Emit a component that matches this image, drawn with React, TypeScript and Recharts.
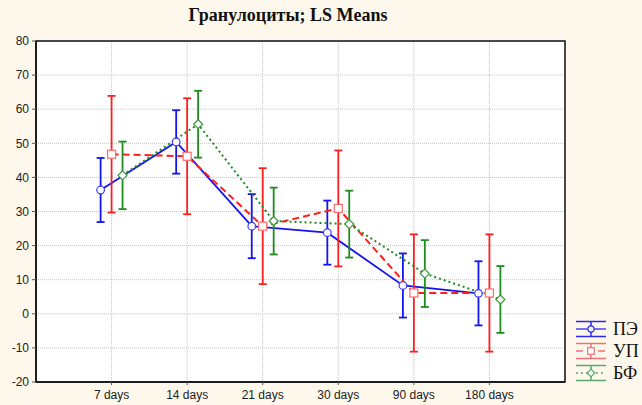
import React from "react";
import {
  ComposedChart,
  Line,
  XAxis,
  YAxis,
  CartesianGrid,
  ErrorBar,
  ReferenceArea,
} from "recharts";

// time points
const categories = ["7 days", "14 days", "21 days", "30 days", "90 days", "180 days"];

// LS means and half-widths of the intervals
const peMeans = [36.3, 50.4, 25.7, 23.8, 8.3, 6.0];
const peErr = [9.4, 9.3, 9.4, 9.4, 9.4, 9.4];
const upMeans = [46.8, 46.2, 25.7, 30.9, 6.1, 6.1];
const upErr = [17.1, 17.0, 17.0, 17.0, 17.2, 17.2];
const bfMeans = [40.6, 55.6, 27.2, 26.3, 11.8, 4.2];
const bfErr = [9.9, 9.8, 9.8, 9.8, 9.8, 9.8];

const yTicks = [-20, -10, 0, 10, 20, 30, 40, 50, 60, 70, 80];
const seriesNames = ["ПЭ", "УП", "БФ"];

const BG = "#fdf8eb";
const SANS = "'Liberation Sans', Arial, sans-serif";
const SERIF = "'Liberation Serif', 'Times New Roman', serif";

type Shape = "circle" | "square" | "diamond";

const series = [
  { name: seriesNames[0], means: peMeans, err: peErr, color: "#1414f0", marker: "#3a3aff", legend: "#2a2af0", shape: "circle" as Shape, dash: undefined, offset: -0.145 },
  { name: seriesNames[1], means: upMeans, err: upErr, color: "#ff1e1e", marker: "#ff6a6a", legend: "#f0707a", shape: "square" as Shape, dash: "7 4", offset: 0 },
  { name: seriesNames[2], means: bfMeans, err: bfErr, color: "#1e8c1e", marker: "#3a9a3a", legend: "#5aa86a", shape: "diamond" as Shape, dash: "2 3", offset: 0.145 },
];

const buildData = (means: number[], err: number[], offset: number) =>
  categories.map((c, i) => ({ x: i + 1 + offset, y: means[i], e: err[i], name: c }));

function Marker({ cx, cy, shape, color, size = 4 }: { cx: number; cy: number; shape: Shape; color: string; size?: number }) {
  if (shape === "circle") return <circle cx={cx} cy={cy} r={size - 0.2} fill="#fff" stroke={color} strokeWidth={1.2} />;
  if (shape === "square")
    return <rect x={cx - size} y={cy - size} width={size * 2} height={size * 2} fill="#fff" stroke={color} strokeWidth={1.2} />;
  const d = size + 0.5;
  return (
    <polygon
      points={`${cx},${cy - d} ${cx + d},${cy} ${cx},${cy + d} ${cx - d},${cy}`}
      fill="#fff"
      stroke={color}
      strokeWidth={1.2}
    />
  );
}

function LegendGlyph({ color, shape, dash }: { color: string; shape: Shape; dash?: string }) {
  return (
    <svg width={32} height={22} style={{ display: "block" }}>
      <line x1={1} y1={3.5} x2={31} y2={3.5} stroke={color} strokeWidth={1.5} />
      <line x1={1} y1={18.5} x2={31} y2={18.5} stroke={color} strokeWidth={1.5} />
      <line x1={16} y1={3.5} x2={16} y2={18.5} stroke={color} strokeWidth={1.5} />
      <line x1={1} y1={11} x2={31} y2={11} stroke={color} strokeWidth={1.3} strokeDasharray={dash} />
      <Marker cx={16} cy={11} shape={shape} color={color} size={3.3} />
    </svg>
  );
}

export default function App() {
  return (
    <div style={{ position: "fixed", left: 0, top: 0, width: 642, height: 405, background: BG, overflow: "hidden" }}>
      <div
        style={{
          position: "absolute",
          left: 0,
          width: 576,
          top: 5,
          textAlign: "center",
          fontFamily: SERIF,
          fontWeight: "bold",
          fontSize: 18,
          color: "#111",
        }}
      >
        Гранулоциты; LS Means
      </div>
      <ComposedChart width={642} height={405} margin={{ top: 41, right: 77, bottom: 0, left: 0 }}>
        <CartesianGrid fill="#fff" stroke="#c4c4c4" strokeDasharray="1 1" />
        <XAxis
          dataKey="x"
          type="number"
          domain={[0, 7]}
          ticks={[1, 2, 3, 4, 5, 6]}
          tickFormatter={(v: number) => categories[Math.round(v) - 1] ?? ""}
          height={23}
          tickSize={3}
          tickMargin={5}
          axisLine={{ stroke: "#111", strokeWidth: 1.5 }}
          tickLine={{ stroke: "#555" }}
          tick={{ fontFamily: SANS, fontSize: 12, fill: "#222" }}
          allowDataOverflow
        />
        <YAxis
          type="number"
          domain={[-20, 80]}
          ticks={yTicks}
          width={36}
          tickSize={4}
          tickMargin={3}
          axisLine={{ stroke: "#111", strokeWidth: 1.5 }}
          tickLine={{ stroke: "#555" }}
          tick={{ fontFamily: SANS, fontSize: 12, fill: "#222" }}
          interval={0}
        />
        <ReferenceArea x1={0} x2={7} y1={-20} y2={80} fill="none" stroke="#111" strokeWidth={1.5} />
        {series.map((s) => (
          <Line
            key={s.name}
            name={s.name}
            data={buildData(s.means, s.err, s.offset)}
            dataKey="y"
            stroke={s.color}
            strokeWidth={s.shape === "circle" ? 1.8 : 2}
            strokeDasharray={s.dash}
            isAnimationActive={false}
            dot={(p: any) => <Marker key={`${s.name}-${p.index}`} cx={p.cx} cy={p.cy} shape={s.shape} color={s.marker} />}
            activeDot={false}
          >
            <ErrorBar dataKey="e" direction="y" width={4} stroke={s.color} strokeWidth={1.8} />
          </Line>
        ))}
      </ComposedChart>
      <div style={{ position: "absolute", left: 575, top: 318 }}>
        {series.map((s) => (
          <div key={s.name} style={{ display: "flex", alignItems: "center", height: 22 }}>
            <LegendGlyph color={s.legend} shape={s.shape} dash={s.dash} />
            <span style={{ marginLeft: 6, fontFamily: SERIF, fontSize: 18, color: "#111", whiteSpace: "nowrap" }}>
              {s.name}
            </span>
          </div>
        ))}
      </div>
    </div>
  );
}
